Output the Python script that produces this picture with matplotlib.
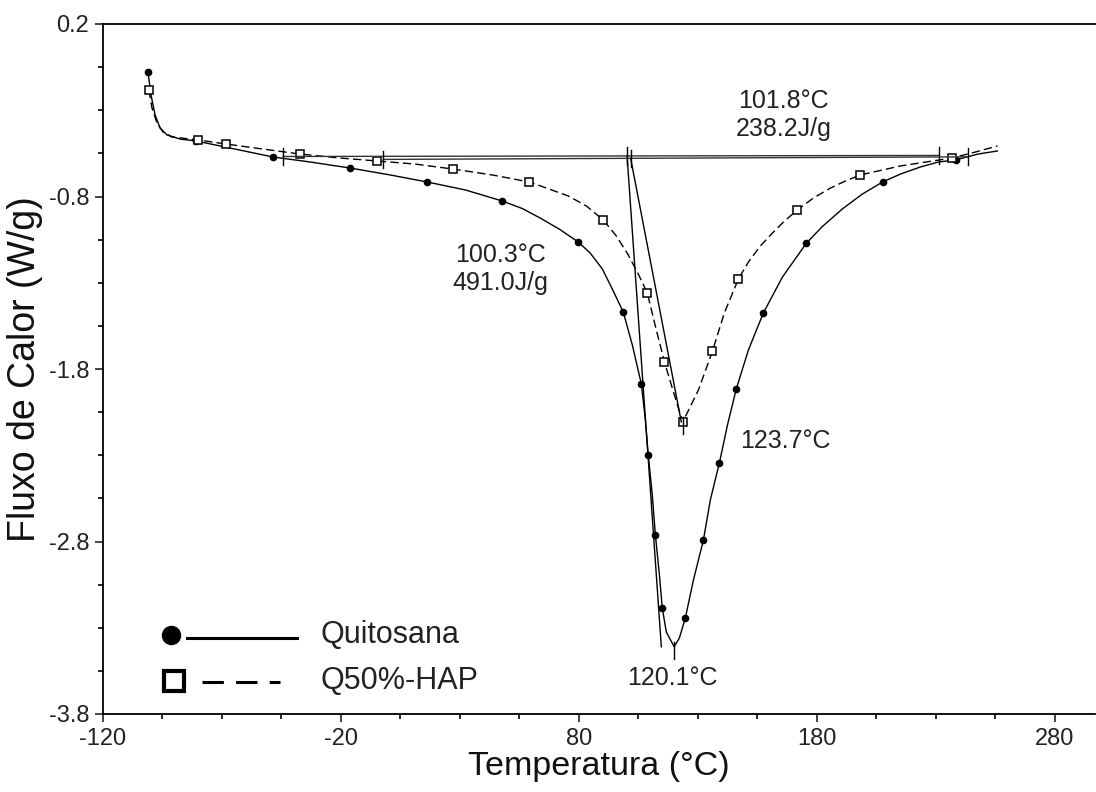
import matplotlib

matplotlib.use("Agg")
import matplotlib.pyplot as plt
from matplotlib.ticker import MultipleLocator

plt.rcParams["font.family"] = ["Liberation Sans", "DejaVu Sans"]
plt.rcParams["axes.unicode_minus"] = False

# DSC heat flow curves (temperature in °C, heat flow in W/g)
temp_quitosana = [-101.1, -99.8, -98.1, -96.0, -93.1, -87.6, -80.9, -64.5, -48.5, -32.9,
                  -16.1, 0.7, 16.3, 32.3, 47.8, 56.3, 63.8, 71.9, 79.8, 84.8,
                  89.9, 94.5, 98.7, 102.5, 106.3, 108.0, 109.2, 110.9, 112.2, 113.9,
                  115.1, 116.8, 120.1, 122.3, 124.8, 128.2, 132.4, 135.3, 139.1, 142.5,
                  146.2, 151.3, 157.6, 165.6, 175.7, 182.4, 190.8, 199.2, 207.7, 215.2,
                  223.6, 231.2, 238.4, 247.8, 256.0]
flux_quitosana = [-0.078, -0.212, -0.328, -0.403, -0.443, -0.467, -0.478, -0.525, -0.571, -0.600,
                  -0.635, -0.675, -0.716, -0.762, -0.826, -0.870, -0.925, -0.990, -1.064, -1.128,
                  -1.220, -1.348, -1.470, -1.660, -1.887, -2.096, -2.299, -2.530, -2.762, -2.994,
                  -3.186, -3.325, -3.410, -3.359, -3.243, -3.023, -2.791, -2.559, -2.345, -2.125,
                  -1.916, -1.690, -1.475, -1.267, -1.070, -0.974, -0.872, -0.786, -0.716, -0.670,
                  -0.629, -0.600, -0.588, -0.554, -0.536]
marks_quitosana = [0, 6, 8, 10, 12, 14, 18, 22, 24, 26, 28, 30, 34, 36, 38, 40, 42, 44, 48, 52]

temp_q50hap = [-100.7, -99.4, -97.3, -94.8, -91.0, -80.0, -68.3, -52.7, -37.1, -20.3,
               -4.8, 11.2, 27.2, 43.6, 59.2, 67.2, 75.6, 83.2, 90.3, 95.8,
               100.8, 105.0, 108.8, 112.6, 116.0, 120.2, 123.7, 130.3, 136.2, 141.2,
               147.1, 151.3, 156.3, 161.4, 166.4, 171.9, 178.6, 185.8, 192.1, 198.4,
               215.2, 236.7, 246.8, 256.0]
flux_q50hap = [-0.183, -0.287, -0.374, -0.426, -0.455, -0.472, -0.496, -0.525, -0.554, -0.577,
               -0.594, -0.612, -0.641, -0.675, -0.716, -0.755, -0.797, -0.855, -0.936, -1.029,
               -1.139, -1.249, -1.359, -1.574, -1.759, -1.951, -2.107, -1.922, -1.696, -1.475,
               -1.278, -1.180, -1.087, -1.012, -0.943, -0.878, -0.809, -0.751, -0.710, -0.675,
               -0.623, -0.577, -0.542, -0.507]
marks_q50hap = [0, 5, 6, 8, 10, 12, 14, 18, 22, 24, 26, 28, 30, 35, 39, 41]

# peak analysis results: onset, enthalpy, peak temperature
onset_temp = [100.3, 101.8]
enthalpy = [491.0, 238.2]
peak_temp = [120.1, 123.7]
peak_flux = [-3.410, -2.107]

# integration baselines (start/end temperature and heat flow)
base_temp = [[-44.3, 231.6], [-2.2, 243.8]]
base_flux = [[-0.568, -0.562], [-0.585, -0.570]]
# end of the leading-edge tangent lines
tangent_end = [[114.7, -3.410], [123.1, -2.107]]

fig = plt.figure(figsize=(10.96, 7.92), dpi=100)
ax = fig.add_axes([103 / 1096, 78 / 792, 992 / 1096, 690 / 792])

ax.plot(temp_quitosana, flux_quitosana, color="black", lw=1.0,
        marker="o", ms=4.5, markevery=marks_quitosana, mfc="black", mec="black")
ax.plot(temp_q50hap, flux_q50hap, color="black", lw=1.0, dashes=(6, 3),
        marker="s", ms=6, markevery=marks_q50hap, mfc="white", mec="black", mew=1.1)

tick_h = 0.05
for i in range(2):
    bt, bf = base_temp[i], base_flux[i]
    ax.plot(bt, bf, color="#333333", lw=1.0)
    for t, f in zip(bt, bf):
        ax.plot([t, t], [f - tick_h, f + tick_h], color="black", lw=1.0)
    # onset marker and tangent line
    slope = (bf[1] - bf[0]) / (bt[1] - bt[0])
    f_on = bf[0] + slope * (onset_temp[i] - bt[0])
    ax.plot([onset_temp[i], onset_temp[i]], [f_on - 0.05, f_on + 0.05], color="black", lw=1.0)
    ax.plot([onset_temp[i], tangent_end[i][0]], [f_on, tangent_end[i][1]], color="black", lw=1.0)
    # peak marker
    ax.plot([peak_temp[i], peak_temp[i]], [peak_flux[i] - 0.07, peak_flux[i] + 0.03],
            color="black", lw=1.0)

txt = dict(fontsize=18, color="#222222")
ax.text(47.0, -1.22, f"{onset_temp[0]:.1f}°C\n{enthalpy[0]:.1f}J/g",
        ha="center", va="center", linespacing=1.25, **txt)
ax.text(166.0, -0.328, f"{onset_temp[1]:.1f}°C\n{enthalpy[1]:.1f}J/g",
        ha="center", va="center", linespacing=1.25, **txt)
ax.text(peak_temp[0] - 0.8, -3.591, f"{peak_temp[0]:.1f}°C", ha="center", va="center", **txt)
ax.text(147.9, -2.217, f"{peak_temp[1]:.1f}°C", ha="left", va="center", **txt)

# legend drawn by hand
ax.plot([0.069], [0.114], transform=ax.transAxes, marker="o", ms=13, color="black", clip_on=False)
ax.plot([0.085, 0.196], [0.110, 0.110], transform=ax.transAxes, color="black", lw=2.2)
ax.text(0.219, 0.114, "Quitosana", transform=ax.transAxes, fontsize=22, va="center", color="#222222")
ax.plot([0.072], [0.048], transform=ax.transAxes, marker="s", ms=14.5, mfc="white",
        mec="black", mew=3.0)
ax.plot([0.100, 0.178], [0.046, 0.046], transform=ax.transAxes, color="black", lw=2.2, dashes=(7, 4))
ax.text(0.219, 0.048, "Q50%-HAP", transform=ax.transAxes, fontsize=22, va="center", color="#222222")

ax.set_xlim(-120, 297)
ax.set_ylim(-3.8, 0.2)
ax.set_yticks([0.2, -0.8, -1.8, -2.8, -3.8])
ax.set_yticks([0.2 - 0.25 * k for k in range(17)], minor=True)
ax.set_xticks([-120, -20, 80, 180, 280])
ax.set_xticks([-120 + 25 * k for k in range(17)], minor=True)
ax.tick_params(which="major", length=6, width=1.2, labelsize=17, pad=4, colors="#222222")
ax.tick_params(which="minor", length=3.5, width=1.2)
ax.spines["right"].set_visible(False)
for s in ("left", "top", "bottom"):
    ax.spines[s].set_linewidth(1.3)

ax.set_xlabel("Temperatura (°C)", fontsize=24.5, labelpad=1, color="#111111")
ax.set_ylabel("Fluxo de Calor (W/g)", fontsize=27, labelpad=4, color="#111111")

fig.savefig("out.png", dpi=100)
